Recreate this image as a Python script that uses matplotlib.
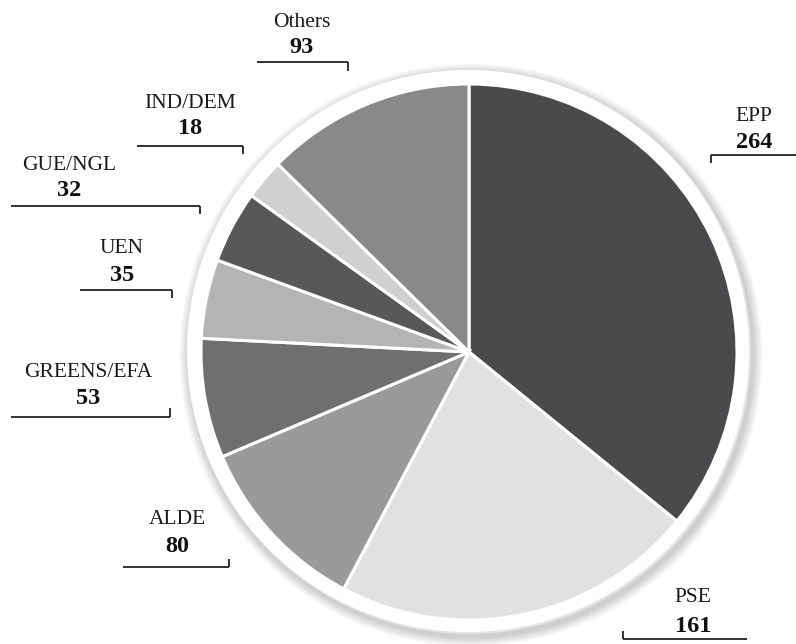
import matplotlib
matplotlib.use("Agg")
import matplotlib.pyplot as plt
from matplotlib.patches import Circle

plt.rcParams["font.family"] = ["Liberation Serif", "DejaVu Serif"]

parties = ["EPP", "PSE", "ALDE", "GREENS/EFA", "UEN", "GUE/NGL", "IND/DEM", "Others"]
seats = [264, 161, 80, 53, 35, 32, 18, 93]
colors = ["#4a4a4c", "#e1e1e3", "#9a9a9c", "#6f6f71", "#b4b4b6", "#58585a", "#d0d0d2", "#89898b"]

# label layout in image pixels: text centre x, name y, value y,
# underline x0, x1, y, and where the tick sits (x, y end)
labels = {
    "EPP":        (754, 116, 142, 711, 796, 155, 711, 163),
    "PSE":        (693, 598, 627, 623, 747, 639, 623, 631),
    "ALDE":       (177, 520, 547, 123, 229, 567, 229, 559),
    "GREENS/EFA": (88, 372, 399, 11, 170, 417, 170, 408),
    "UEN":        (122, 248, 275, 80, 172, 290, 172, 298),
    "GUE/NGL":    (69, 165, 190, 11, 200, 206, 200, 214),
    "IND/DEM":    (190, 103, 128, 137, 243, 146, 243, 154),
    "Others":     (302, 22, 47, 257, 348, 62, 348, 71),
}

W, H = 796, 644
cx, cy, r = 469, 352, 268

fig = plt.figure(figsize=(W / 100, H / 100), dpi=100)
ax = fig.add_axes([0, 0, 1, 1])

def Y(y):
    return H - y

# soft shadow behind the white ring
for i in range(12):
    ax.add_patch(Circle((cx + 2, Y(cy) - 3), 283 + i * 0.8, color="#000000",
                        alpha=0.015, lw=0, zorder=1))
ax.add_patch(Circle((cx, Y(cy)), 282, color="#e4e4e4", lw=0, zorder=2))
ax.add_patch(Circle((cx - 1, Y(cy) + 1), 281, color="white", lw=0, zorder=3))

wedges, _ = ax.pie(seats, colors=colors, startangle=90, counterclock=False,
                   center=(cx, Y(cy)), radius=r, frame=True,
                   wedgeprops=dict(edgecolor="white", linewidth=2.2, zorder=4))

for name in parties:
    tx, ny, vy, x0, x1, ly, tkx, tky = labels[name]
    value = seats[parties.index(name)]
    ax.text(tx, Y(ny), name, ha="center", va="center", fontsize=15.5,
            color="#1a1a1a")
    ax.text(tx, Y(vy), str(value), ha="center", va="center", fontsize=17.5,
            fontweight="bold", color="#111111")
    ax.plot([x0, x1], [Y(ly), Y(ly)], color="#222222", lw=1.3, solid_capstyle="butt")
    ax.plot([tkx, tkx], [Y(ly), Y(tky)], color="#222222", lw=1.3, solid_capstyle="butt")

ax.set_xlim(0, W)
ax.set_ylim(0, H)
ax.set_aspect("equal")
ax.axis("off")

fig.savefig("out.png", dpi=100, facecolor="white")
